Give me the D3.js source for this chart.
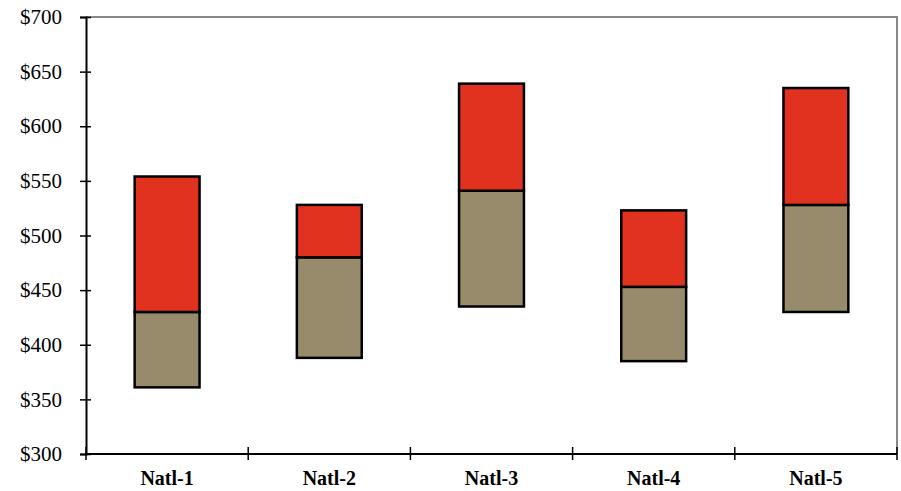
<!DOCTYPE html>
<html><head><meta charset="utf-8">
<script src="https://cdn.jsdelivr.net/npm/d3@7"></script>
<style>body{margin:0;background:#fff}svg{display:block}</style>
</head><body>
<svg id="c" width="901" height="491"></svg>
<script>
const categories = ["Natl-1","Natl-2","Natl-3","Natl-4","Natl-5"];
const lowValues  = [361, 388, 435, 385, 430];
const midValues  = [430, 480, 541, 453, 528];
const highValues = [554, 528, 639, 523, 635];
const yTicks = [300,350,400,450,500,550,600,650,700];

const svg = d3.select("#c");
const L = 86, R = 897, T = 17, B = 454;
const x = d3.scaleBand().domain(categories).range([L, R]).paddingInner(0.6).paddingOuter(0.3);
const xb = d3.scaleBand().domain(categories).range([L, R]);
const y = d3.scaleLinear().domain([300, 700]).range([B, T]);

// frame top/right gray
svg.append("path").attr("d", `M${L},${T}H${R}V${B}`).attr("fill","none").attr("stroke","#888").attr("stroke-width",2);

const data = categories.map((c,i)=>({c, lo:lowValues[i], mid:midValues[i], hi:highValues[i]}));
const g = svg.append("g");
g.selectAll("rect.lo").data(data).join("rect").attr("class","lo")
  .attr("x", d=>x(d.c)).attr("width", x.bandwidth())
  .attr("y", d=>y(d.mid)).attr("height", d=>y(d.lo)-y(d.mid))
  .attr("fill","#978b6b").attr("stroke","#000").attr("stroke-width",2.5);
g.selectAll("rect.hi").data(data).join("rect").attr("class","hi")
  .attr("x", d=>x(d.c)).attr("width", x.bandwidth())
  .attr("y", d=>y(d.hi)).attr("height", d=>y(d.mid)-y(d.hi))
  .attr("fill","#e0321e").attr("stroke","#000").attr("stroke-width",2.5);

// y axis
const ya = svg.append("g").attr("transform",`translate(${L},0)`)
  .call(d3.axisLeft(y).tickValues(yTicks).tickFormat(d=>"$"+d).tickSize(6).tickPadding(18));
ya.select(".domain").attr("stroke","#000").attr("stroke-width",2);
ya.selectAll(".tick line").attr("stroke","#000").attr("stroke-width",1.5).attr("x2",5).attr("x1",-6);
ya.selectAll("text").attr("font-family","'Liberation Serif','Times New Roman',serif").attr("font-size",21).attr("fill","#000");

// x axis
const xa = svg.append("g").attr("transform",`translate(0,${B})`);
xa.append("line").attr("x1",L).attr("x2",R).attr("stroke","#000").attr("stroke-width",2);
const bounds = categories.map(c=>xb(c)).concat([R]);
xa.selectAll("line.t").data(bounds).join("line").attr("class","t")
  .attr("x1",d=>d).attr("x2",d=>d).attr("y1",-7).attr("y2",6).attr("stroke","#000").attr("stroke-width",1.5);
xa.selectAll("text").data(categories).join("text")
  .attr("x",d=>xb(d)+xb.bandwidth()/2).attr("y",31).attr("text-anchor","middle")
  .attr("font-family","'Liberation Serif','Times New Roman',serif").attr("font-weight","bold").attr("font-size",20)
  .text(d=>d);
</script>
</body></html>
